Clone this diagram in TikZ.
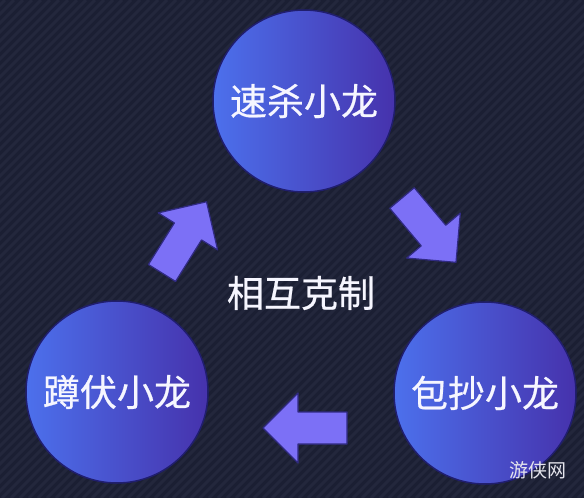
\documentclass[tikz,border=0pt]{standalone}
\usepackage{fontspec}
\newfontfamily\cjk{Noto Sans CJK SC}
\newfontfamily\cjkb[FakeBold=0.6]{Noto Sans CJK SC}
\definecolor{bgcol}{RGB}{27,31,51}
\definecolor{stripecol}{RGB}{35,39,60}
\definecolor{circleft}{RGB}{76,112,236}
\definecolor{circright}{RGB}{70,50,172}
\definecolor{circedge}{RGB}{32,30,110}
\definecolor{arrowfill}{RGB}{124,112,246}
\definecolor{arrowedge}{RGB}{48,42,130}
\definecolor{textcol}{RGB}{246,246,255}
\tikzset{
  x=1pt, y=-1pt,
  bubble/.style={circle, minimum size=182pt, inner sep=0pt,
    left color=circleft, right color=circright, draw=circedge, line width=1.5pt,
    text=textcol, font=\cjkb\fontsize{37}{37}\selectfont},
  label/.style={text=textcol, font=\cjkb\fontsize{37}{37}\selectfont, inner sep=0pt},
  blockarrow/.style={fill=arrowfill, draw=arrowedge, line width=1.2pt, line join=round},
}
\newcommand{\blockarrowshape}{(0,-16) -- (49,-16) -- (49,-35) -- (84,0) -- (49,35) -- (49,16) -- (0,16) -- cycle}
\begin{document}
\begin{tikzpicture}
\useasboundingbox (0,0) rectangle (584,498);
\fill[bgcol] (0,0) rectangle (584,498);
\begin{scope}
\clip (0,0) rectangle (584,498);
\foreach \i in {-520,-511,...,600} {
  \draw[stripecol, line width=3pt] (\i,498) -- (\i+498,0);
}
\end{scope}

\node[bubble] (fast) at (304,101) {速杀小龙};
\node[bubble] (crouch) at (117,392) {蹲伏小龙};
\node[bubble] (flank) at (485,393) {包抄小龙};
\node[label] (mutual) at (301,293) {相互克制};

% arrows
\coordinate (a1) at (162,273);
\coordinate (a2) at (402,198);
\coordinate (a3) at (347,428);
\draw[blockarrow, shift={(a1)}, rotate=58] \blockarrowshape;
\draw[blockarrow, shift={(a2)}, rotate=-50] \blockarrowshape;
\draw[blockarrow, shift={(a3)}, rotate=180] \blockarrowshape;

\node[text=textcol!85!gray, font=\cjk\fontsize{19}{19}\selectfont, inner sep=0pt] (wm) at (538,470) {游侠网};
\end{tikzpicture}
\end{document}
